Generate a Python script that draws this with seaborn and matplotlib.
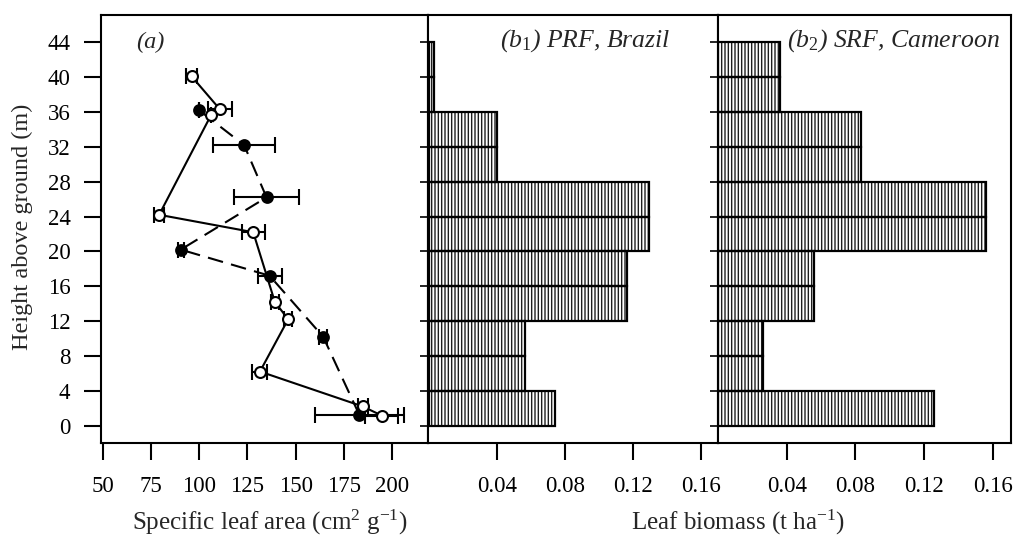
import matplotlib
matplotlib.use("Agg")
import matplotlib.pyplot as plt
import seaborn as sns

# Specific leaf area profiles: open symbols (solid line) and filled symbols (dashed line)
open_sla = [96.1, 110.8, 106.3, 79.3, 128.0, 139.2, 146.1, 131.5, 184.6, 194.5]
open_height = [40.1, 36.3, 35.7, 24.2, 22.2, 14.2, 12.2, 6.2, 2.2, 1.15]
open_err = [2.8, 6.0, 0.0, 2.6, 6.0, 2.0, 2.0, 3.9, 2.6, 8.5]

filled_sla = [100.0, 123.3, 134.9, 90.5, 136.5, 164.2, 182.9]
filled_height = [36.2, 32.2, 26.2, 20.2, 17.2, 10.2, 1.25]
filled_err = [0.0, 16.2, 17.0, 1.5, 6.2, 2.0, 23.0]

# Leaf biomass per 4-m canopy layer (layer mid-heights)
layer_mid = [2, 6, 10, 14, 18, 22, 26, 30, 34, 38, 42]
biomass_brazil = [0.074, 0.056, 0.056, 0.116, 0.116, 0.129, 0.129, 0.040, 0.040, 0.003, 0.003]
biomass_cameroon = [0.126, 0.026, 0.026, 0.056, 0.056, 0.156, 0.156, 0.083, 0.083, 0.036, 0.036]

sla_ticks = [50, 75, 100, 125, 150, 175, 200]
height_ticks = list(range(0, 45, 4))
biomass_ticks = [0.04, 0.08, 0.12, 0.16]

sns.set_theme(style="ticks")
plt.rcParams["font.family"] = ["Liberation Serif", "DejaVu Serif"]
plt.rcParams["mathtext.fontset"] = "custom"
plt.rcParams["mathtext.rm"] = "Liberation Serif"
plt.rcParams["mathtext.it"] = "Liberation Serif:italic"
plt.rcParams["hatch.linewidth"] = 1.0
plt.rcParams["axes.linewidth"] = 1.5
plt.rcParams["axes.edgecolor"] = "black"

W, H = 1021, 540
fig = plt.figure(figsize=(W / 100, H / 100), dpi=100)
fig.patch.set_facecolor("white")

top, bottom = 14.5, 442.5
def box(x0, x1):
    return [x0 / W, 1 - bottom / H, (x1 - x0) / W, (bottom - top) / H]

ax_a = fig.add_axes(box(101, 428))
ax_b1 = fig.add_axes(box(428, 717.5))
ax_b2 = fig.add_axes(box(717.5, 1011))

ylim = (-1.95, 47.2)
tick_fs = 16.5
label_fs = 18

# ---- (a) specific leaf area ----
sns.lineplot(x=filled_sla, y=filled_height, orient="y", sort=True, estimator=None,
             color="black", linewidth=1.5, ax=ax_a)
ax_a.lines[-1].set_dashes((7.5, 4))
sns.lineplot(x=open_sla, y=open_height, orient="y", sort=True, estimator=None,
             color="black", linewidth=1.5, ax=ax_a)

ax_a.errorbar(filled_sla, filled_height, xerr=filled_err, fmt="none", ecolor="black",
              elinewidth=1.5, capsize=6, capthick=1.5, zorder=3)
ax_a.errorbar(open_sla, open_height, xerr=open_err, fmt="none", ecolor="black",
              elinewidth=1.5, capsize=6, capthick=1.5, zorder=3)
sns.scatterplot(x=filled_sla, y=filled_height, color="black", s=64, marker="o",
                edgecolor="black", linewidth=1.2, zorder=4, ax=ax_a)
sns.scatterplot(x=open_sla, y=open_height, color="white", s=62, marker="o",
                edgecolor="black", linewidth=1.5, zorder=5, ax=ax_a)

ax_a.set_xlim(49.2, 218.5)
ax_a.set_ylim(*ylim)
ax_a.set_xticks(sla_ticks)
ax_a.set_yticks(height_ticks)
ax_a.tick_params(axis="both", direction="out", length=12, width=1.5,
                 labelsize=tick_fs, color="black", labelcolor="black")
ax_a.tick_params(axis="x", pad=12)
ax_a.tick_params(axis="y", pad=10)
ax_a.set_xlabel("")
ax_a.set_ylabel("")
ax_a.text(0.15, 0.935, "(a)", transform=ax_a.transAxes, ha="center", va="center",
          fontsize=17.5, style="italic")

# ---- (b) leaf biomass profiles ----
def biomass_panel(ax, values, xlim, title, title_x):
    sns.barplot(x=values, y=layer_mid, orient="y", native_scale=True, width=1,
                color="white", saturation=1, edgecolor="#1e1e1e", linewidth=0,
                errorbar=None, ax=ax)
    for p in ax.patches:
        p.set_hatch("|||||")
    sns.barplot(x=values, y=layer_mid, orient="y", native_scale=True, width=1,
                color="black", fill=False, linewidth=1.6, errorbar=None, ax=ax)
    ax.set_xlim(*xlim)
    ax.set_ylim(*ylim)
    ax.set_xticks(biomass_ticks)
    ax.set_xticklabels([f"{t:.2f}" for t in biomass_ticks])
    ax.set_yticks(height_ticks)
    ax.tick_params(axis="y", direction="out", length=6, width=1.2, labelleft=False,
                   color="black")
    ax.tick_params(axis="x", direction="out", length=12, width=1.5, pad=12,
                   labelsize=tick_fs, color="black", labelcolor="black")
    ax.set_xlabel("")
    ax.set_ylabel("")
    ax.text(title_x, 0.94, title, transform=ax.transAxes, ha="center", va="center",
            fontsize=18.5, style="italic")

biomass_panel(ax_b1, biomass_brazil, (-0.0008, 0.1695),
              r"($b_\mathit{1}$) PRF, Brazil", 0.542)
biomass_panel(ax_b2, biomass_cameroon, (-0.0003, 0.1706),
              r"($b_\mathit{2}$) SRF, Cameroon", 0.598)

for ax in (ax_a, ax_b1, ax_b2):
    for s in ax.spines.values():
        s.set_visible(True)
        s.set_linewidth(1.5)
        s.set_color("black")

fig.text(22 / W, 1 - 227 / H, "Height above ground (m)", rotation=90,
         ha="center", va="center", fontsize=17.5)
fig.text(270 / W, 1 - 522 / H, r"Specific leaf area (cm$^{2}$ g$^{-1}$)",
         ha="center", va="center", fontsize=label_fs)
fig.text(738 / W, 1 - 522 / H, r"Leaf biomass (t ha$^{-1}$)",
         ha="center", va="center", fontsize=label_fs)

fig.savefig("out.png", dpi=100, facecolor="white")
